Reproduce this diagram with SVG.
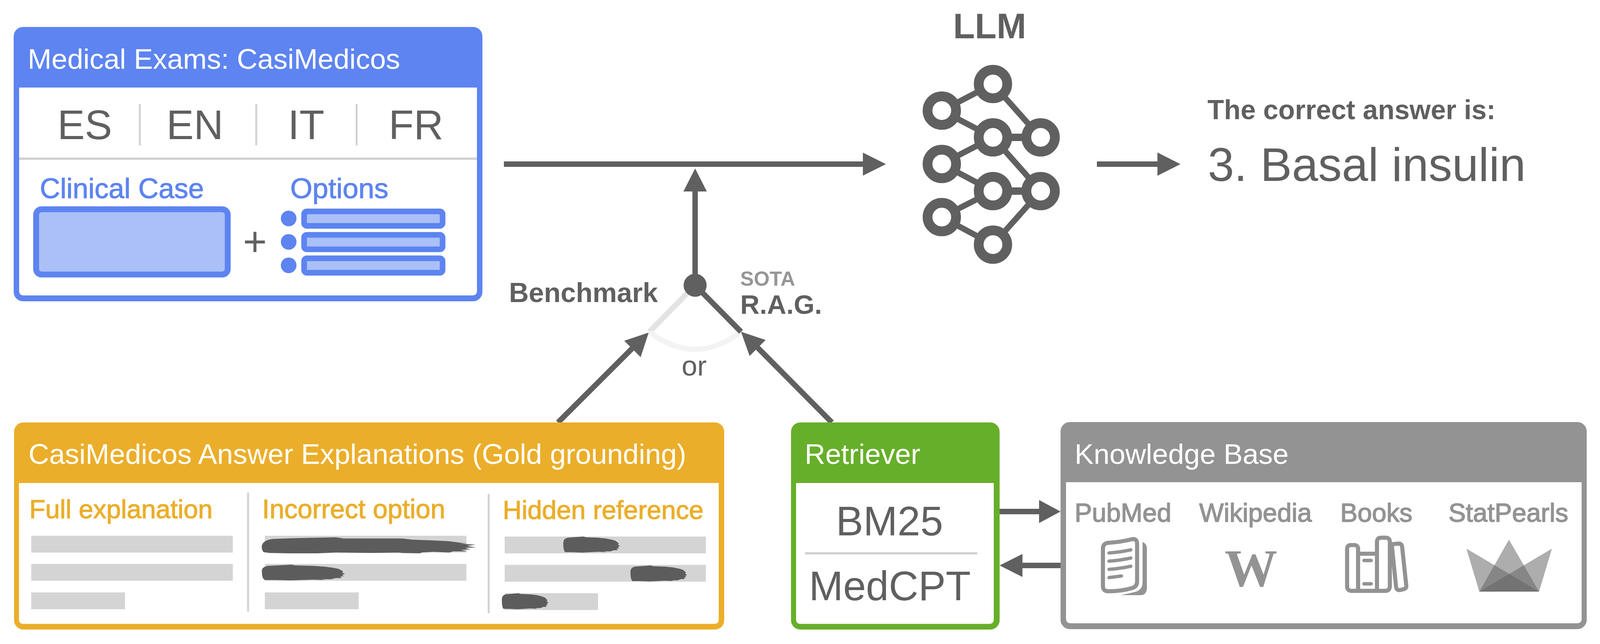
<svg xmlns="http://www.w3.org/2000/svg" xmlns:xlink="http://www.w3.org/1999/xlink" width="4107" height="1648" viewBox="0 0 4107 1648">
<style>
text{font-family:"Liberation Sans",Arial,sans-serif;fill:#606060}
.b{font-weight:bold}
.title{font-size:73px;fill:#fff}
.big{font-size:105px}
.sep{fill:#d2d2d2}
.blue{fill:#5d84f0}
.blueT{fill:#5d84f0;stroke:#5d84f0;stroke-width:1.2;font-size:72px}
.org{fill:#ebae2a;stroke:#ebae2a;stroke-width:1.4;font-size:67px}
.kb{fill:#939393;stroke:#939393;stroke-width:1.8;font-size:66.5px}
.opt{fill:#aac0f7;stroke:#5d84f0;stroke-width:14.5}
.bar{fill:#d4d4d4}
.con{stroke:#606060;stroke-width:14;fill:none}
.head{fill:#606060}
.ring{fill:#fff;stroke:#606060;stroke-width:25}
.nl{stroke:#606060;stroke-width:15;fill:none}
.nh{stroke:#606060;stroke-width:19;fill:none}
.ico{fill:none;stroke:#939393;stroke-width:10.5;stroke-linecap:round;stroke-linejoin:round}
.cr{fill:#636363;fill-opacity:.524}
</style>
<defs>
<path id="brush" fill="#5c5c5c" d="M1 18Q0 6 12 3L40 1L52 0L60 2L90 3L110 5L125 8L135 11L140 15L143 18L141 21L146 24L141 27L144 30L138 31L140 35L130 35L122 38L105 38L112 40L90 39L70 40L50 41L25 40L6 40Q1 36 1 18Z"/>
</defs>

<g id="connectors">
<path class="con" d="M1290 420H2215"/>
<polygon class="head" points="2209,390.5 2268,420 2209,449.5"/>
<path class="con" d="M1779.5 730V485"/>
<polygon class="head" points="1749.5,490 1779.5,431 1809.5,490"/>
<path d="M1662.5 849L1779.5 730" stroke="#e3e3e3" stroke-width="14" fill="none"/>
<path d="M1664 850Q1777 938 1896 850" stroke="#f3f3f3" stroke-width="13" fill="none"/>
<path class="con" d="M1897 849L1779.5 730"/>
<circle cx="1779.5" cy="730" r="29.5" fill="#606060"/>
<path class="con" d="M1428.6 1081L1630 880"/>
<polygon class="head" points="1660.7,851 1640,914 1598,872"/>
<path class="con" d="M2129.5 1081L1930 880"/>
<polygon class="head" points="1897,849 1960,870 1919,911"/>
<path class="con" d="M2559 1309H2665"/>
<polygon class="head" points="2660,1279.6 2715,1309 2660,1338.4"/>
<path class="con" d="M2715 1447H2610"/>
<polygon class="head" points="2617.5,1417.6 2559,1447 2617.5,1476.4"/>
<path class="con" d="M2808 420H2968"/>
<polygon class="head" points="2963,390.3 3022,420 2963,449.7"/>
</g>

<g id="medical-exams">
<rect x="35" y="69" width="1200" height="702" rx="24" class="blue"/>
<path d="M49 224H1221V744Q1221 756 1209 756H61Q49 756 49 744Z" fill="#fff"/>
<text class="title" x="71" y="176">Medical Exams: CasiMedicos</text>
<text class="big" x="147" y="356">ES</text>
<text class="big" x="426" y="356">EN</text>
<text class="big" x="737" y="356">IT</text>
<text class="big" x="995" y="356">FR</text>
<rect class="sep" x="355.5" y="266" width="5" height="106"/>
<rect class="sep" x="653.5" y="266" width="5" height="106"/>
<rect class="sep" x="910.5" y="266" width="5" height="106"/>
<rect class="sep" x="49" y="403" width="1172" height="6"/>
<text class="blueT" x="102" y="507">Clinical Case</text>
<text class="blueT" x="743" y="507" style="font-size:73px">Options</text>
<rect x="92.5" y="535.5" width="490.5" height="167" rx="14" fill="#aac0f7" stroke="#5d84f0" stroke-width="15"/>
<text x="622" y="654" font-size="105">+</text>
<circle class="blue" cx="739" cy="559" r="20"/>
<circle class="blue" cx="739" cy="619" r="20"/>
<circle class="blue" cx="739" cy="679" r="20"/>
<rect class="opt" x="778.5" y="541" width="354.5" height="37" rx="7"/>
<rect class="opt" x="778.5" y="601" width="354.5" height="37" rx="7"/>
<rect class="opt" x="778.5" y="661" width="354.5" height="37" rx="7"/>
</g>

<g id="llm">
<text class="b" x="2440" y="98" font-size="91">LLM</text>
<path class="nl" d="M2411 283L2542 215M2411 283L2542 351.5M2411 419.5L2542 351.5M2411 419.5L2542 489M2411 555.6L2542 489M2411 555.6L2542 626M2542 215L2664 352M2542 351.5L2664 489M2542 626L2664 489"/>
<path class="nh" d="M2542 351.5H2664M2542 489H2664"/>
<circle class="ring" cx="2411" cy="283" r="36.5"/>
<circle class="ring" cx="2411" cy="419.5" r="36.5"/>
<circle class="ring" cx="2411" cy="555.6" r="36.5"/>
<circle class="ring" cx="2542" cy="215" r="36.5"/>
<circle class="ring" cx="2542" cy="351.5" r="36.5"/>
<circle class="ring" cx="2542" cy="489" r="36.5"/>
<circle class="ring" cx="2542" cy="626" r="36.5"/>
<circle class="ring" cx="2664" cy="351.5" r="36.5"/>
<circle class="ring" cx="2664" cy="489" r="36.5"/>
</g>

<g id="answer">
<text class="b" x="3091" y="305" font-size="69.5">The correct answer is:</text>
<text x="3092" y="463" font-size="121">3. Basal insulin</text>
</g>

<g id="labels">
<text class="b" x="1303" y="773" font-size="70">Benchmark</text>
<text class="b" x="1895" y="731" font-size="52" style="fill:#969696">SOTA</text>
<text class="b" x="1895" y="803" font-size="68.5">R.A.G.</text>
<text x="1745" y="961" font-size="72">or</text>
</g>

<g id="explanations">
<rect x="36" y="1081" width="1818" height="530" rx="24" fill="#ebae2a"/>
<path d="M48.500 1236H1840V1585Q1840 1596.500 1828 1596.500H60Q48.500 1596.500 48.500 1585Z" fill="#fff"/>
<text class="title" x="73" y="1187">CasiMedicos Answer Explanations (Gold grounding)</text>
<text class="org" x="75" y="1326">Full explanation</text>
<text class="org" x="671" y="1326" style="font-size:68px">Incorrect option</text>
<text class="org" x="1287" y="1328">Hidden reference</text>
<rect class="sep" x="632.500" y="1260.500" width="5" height="304.500"/>
<rect class="sep" x="1248.500" y="1264" width="5" height="305"/>
<rect class="bar" x="80" y="1371" width="516" height="43"/>
<rect class="bar" x="80" y="1443" width="516" height="43"/>
<rect class="bar" x="80" y="1516" width="240" height="43"/>
<rect class="bar" x="678" y="1371" width="516" height="43"/>
<rect class="bar" x="678" y="1443" width="516" height="43"/>
<rect class="bar" x="678" y="1516" width="240" height="43"/>
<rect class="bar" x="1292" y="1373" width="515" height="43"/>
<rect class="bar" x="1292" y="1445.500" width="515" height="43"/>
<rect class="bar" x="1292" y="1518" width="239" height="43"/>
<path fill="#5c5c5c" d="M670 1398Q672 1382 700 1379L760 1377L860 1375L880 1378L990 1378L1030 1378L1055 1381L1110 1383L1150 1385L1195 1391L1175 1391L1218 1394L1195 1397L1219 1401L1190 1402L1205 1406L1180 1407L1195 1411L1160 1411L1150 1414L1110 1412L1080 1414L1075 1416L1020 1415L1030 1414L950 1415L860 1414L810 1416L740 1416L690 1415L675 1413Q670 1408 670 1398Z"/>
<use xlink:href="#brush" href="#brush" transform="translate(669 1445) scale(1.466 .98)"/>
<use xlink:href="#brush" href="#brush" transform="translate(1441 1373)"/>
<use xlink:href="#brush" href="#brush" transform="translate(1613 1447)"/>
<use xlink:href="#brush" href="#brush" transform="translate(1284 1518) scale(.82 1)"/>
</g>

<g id="retriever">
<rect x="2025" y="1081" width="534" height="530" rx="24" fill="#66af2a"/>
<path d="M2038 1236H2544V1585Q2544 1596.500 2532 1596.500H2050Q2038 1596.500 2038 1585Z" fill="#fff"/>
<text class="title" x="2060" y="1187">Retriever</text>
<text class="big" x="2140" y="1370">BM25</text>
<rect class="sep" x="2061" y="1413" width="441" height="6"/>
<text class="big" x="2071" y="1536">MedCPT</text>
</g>

<g id="knowledge-base">
<rect x="2715" y="1080" width="1347" height="530" rx="24" fill="#939393"/>
<path d="M2729 1234H4049V1583Q4049 1595 4037 1595H2741Q2729 1595 2729 1583Z" fill="#fff"/>
<text class="title" x="2751" y="1187">Knowledge Base</text>
<text class="kb" x="2751" y="1335">PubMed</text>
<text class="kb" x="3070" y="1335">Wikipedia</text>
<text class="kb" x="3431" y="1335">Books</text>
<text class="kb" x="3708" y="1335">StatPearls</text>
<g id="pubmed-icon">
<path class="ico" d="M2823.500 1404Q2823.500 1390 2838 1389Q2870 1387 2897 1380Q2911 1377 2911 1392V1488Q2911 1501 2898 1505Q2870 1513 2838 1513Q2823.500 1513 2823.500 1500Z"/>
<path class="ico" style="stroke-width:8.500" d="M2839 1415Q2868 1413 2895 1407M2839 1436Q2868 1434 2895 1428M2839 1457Q2868 1455 2895 1449M2839 1478L2871 1474"/>
<path fill="#939393" d="M2925 1387Q2936 1391 2936 1405V1507Q2934 1523 2920 1523H2870L2905 1515Q2925 1510 2925 1490Z"/>
</g>
<text x="3135" y="1500" font-size="135" font-weight="bold" style="font-family:'Liberation Serif',serif;fill:#939393">W</text>
<g id="books-icon">
<path class="ico" d="M3476.700 1512V1405Q3476.700 1394.700 3466 1394.700H3459Q3448.600 1394.700 3448.600 1405V1500Q3448.600 1512 3460 1512H3546Q3558 1512 3558 1500V1387Q3558 1376 3547 1376H3536Q3525 1376 3525 1387V1512M3476.700 1417H3525"/>
<path class="ico" style="stroke-width:9" d="M3492 1434.300H3510M3492 1494H3510"/>
<path class="ico" d="M3561 1393L3580 1391Q3588.500 1391 3589.500 1400L3600 1498Q3601 1506 3592 1508L3584 1510Q3575 1511 3574 1502L3563 1395"/>
</g>
<g id="statpearls-icon">
<polygon class="cr" points="3863,1381 3787,1514 3940,1514"/>
<polygon class="cr" points="3754,1404 3787,1514 3940,1514"/>
<polygon class="cr" points="3973,1404 3787,1514 3940,1514"/>
</g>
</g>
</svg>
